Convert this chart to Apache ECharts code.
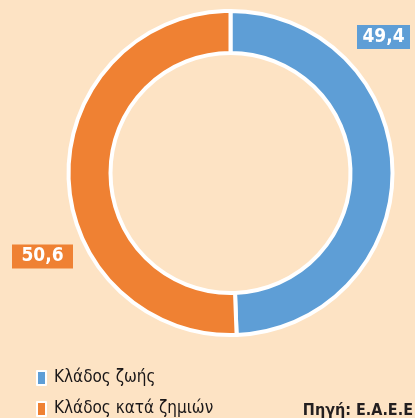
<!DOCTYPE html>
<html>
<head>
<meta charset="utf-8">
<script src="https://cdn.jsdelivr.net/npm/echarts@6/dist/echarts.min.js"></script>
<style>
html,body{margin:0;padding:0;background:#fde3c4;}
#c{width:415px;height:418px;}
</style>
</head>
<body>
<div id="c"></div>
<script>
const categories = ['Κλάδος ζωής', 'Κλάδος κατά ζημιών'];
const values = [49.4, 50.6];
const sourceText = 'Πηγή: Ε.Α.Ε.Ε';

const colors = ['#5e9ed6', '#ef8133'];
const labelSpots = [
  {x: 383.5, y: 37, w: 53},
  {x: 42.5, y: 256.5, w: 61}
];
const FONT = "'Liberation Sans Narrow', 'DejaVu Sans Condensed', 'Roboto Condensed', sans-serif";

const chart = echarts.init(document.getElementById('c'), null, {renderer: 'canvas'});
chart.setOption({
  backgroundColor: '#fde3c4',
  animation: false,
  color: colors,
  title: {
    text: sourceText,
    right: 2,
    top: 403,
    padding: 0,
    textStyle: {fontFamily: FONT, fontSize: 16, fontWeight: 'bold', color: '#231f20', lineHeight: 15}
  },
  legend: {
    orient: 'vertical',
    left: 36,
    top: 369,
    padding: 0,
    height: 80,
    itemWidth: 9,
    itemHeight: 14,
    itemGap: 13,
    icon: 'rect',
    data: categories,
    textStyle: {fontFamily: FONT, fontSize: 17, color: '#1a1718', lineHeight: 18, padding: [0, 0, 0, 3]}
  },
  series: [{
    type: 'pie',
    center: [230.5, 173],
    radius: [120, 162],
    startAngle: 90,
    clockwise: true,
    silent: true,
    itemStyle: {borderColor: '#ffffff', borderWidth: 4},
    data: categories.map((c, i) => ({
      name: c,
      value: values[i],
      label: {width: labelSpots[i].w, backgroundColor: colors[i]}
    })),
    label: {
      show: true,
      position: 'outside',
      formatter: p => String(p.value).replace('.', ','),
      fontFamily: FONT,
      fontSize: 19,
      fontWeight: 'bold',
      color: '#ffffff',
      height: 24,
      lineHeight: 24,
      align: 'center',
      padding: 0
    },
    labelLine: {show: false},
    labelLayout: p => ({
      x: labelSpots[p.dataIndex].x,
      y: labelSpots[p.dataIndex].y,
      align: 'center',
      verticalAlign: 'middle'
    })
  }]
});
</script>
</body>
</html>
